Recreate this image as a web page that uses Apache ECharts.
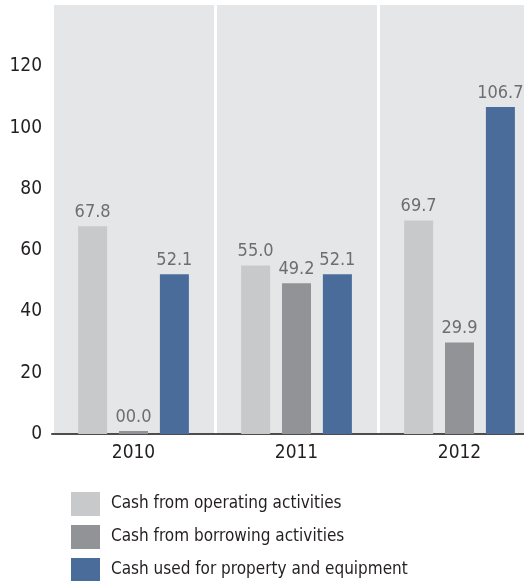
<!DOCTYPE html>
<html>
<head>
<meta charset="utf-8">
<script src="https://cdn.jsdelivr.net/npm/echarts@6/dist/echarts.min.js"></script>
<style>
  html, body { margin: 0; padding: 0; background: #fff; }
  #main { width: 524px; height: 581px; }
</style>
</head>
<body>
<div id="main"></div>
<script>
// data
var years = ['2010', '2011', '2012'];
var operating = [67.8, 55.0, 69.7];
var borrowing = [0, 49.2, 29.9];
var property = [52.1, 52.1, 106.7];
var seriesNames = ['Cash from operating activities', 'Cash from borrowing activities', 'Cash used for property and equipment'];
var colors = ['#c8c9cb', '#929396', '#4a6c9b'];

var font = "'DejaVu Sans Condensed', Roboto, sans-serif";

var chart = echarts.init(document.getElementById('main'));

function bar(name, data, color) {
  return {
    name: name,
    type: 'bar',
    data: data,
    barWidth: 29,
    barGap: '41%',
    barMinHeight: 3,
    itemStyle: { color: color },
    label: {
      show: true,
      position: 'top',
      distance: 5,
      color: '#6d6e71',
      fontFamily: font,
      fontSize: 18,
      formatter: function (p) {
        // 0 is printed as 00.0 in the original
        return p.value.toFixed(1).padStart(4, '0');
      }
    }
  };
}

chart.setOption({
  animation: false,
  color: colors,
  grid: {
    left: 52,
    right: -17,
    top: 5,
    bottom: 147,
    show: true,
    backgroundColor: '#e5e6e8',
    borderWidth: 0,
    outerBoundsMode: 'none'
  },
  legend: {
    orient: 'vertical',
    left: 66,
    top: 487,
    height: 100,
    icon: 'rect',
    itemWidth: 29,
    itemHeight: 24,
    itemGap: 9,
    textStyle: { fontFamily: font, fontSize: 17, color: '#231f20', padding: [0, 0, 0, 6] },
    data: seriesNames
  },
  xAxis: {
    type: 'category',
    data: years,
    axisLine: { lineStyle: { color: '#4d4d4f', width: 2 } },
    axisTick: { show: false },
    axisLabel: { fontFamily: font, fontSize: 19, color: '#231f20', margin: 10 },
    splitLine: { show: true, interval: 0, lineStyle: { color: '#ffffff', width: 3 } }
  },
  yAxis: {
    type: 'value',
    min: 0,
    max: 140,
    interval: 20,
    axisLine: { show: false },
    axisTick: { show: false },
    splitLine: { show: false },
    axisLabel: {
      fontFamily: font,
      fontSize: 19,
      color: '#231f20',
      margin: 10,
      formatter: function (v) { return v === 140 ? '' : v; }
    }
  },
  series: [
    bar(seriesNames[0], operating, colors[0]),
    bar(seriesNames[1], borrowing, colors[1]),
    bar(seriesNames[2], property, colors[2])
  ]
});
</script>
</body>
</html>
